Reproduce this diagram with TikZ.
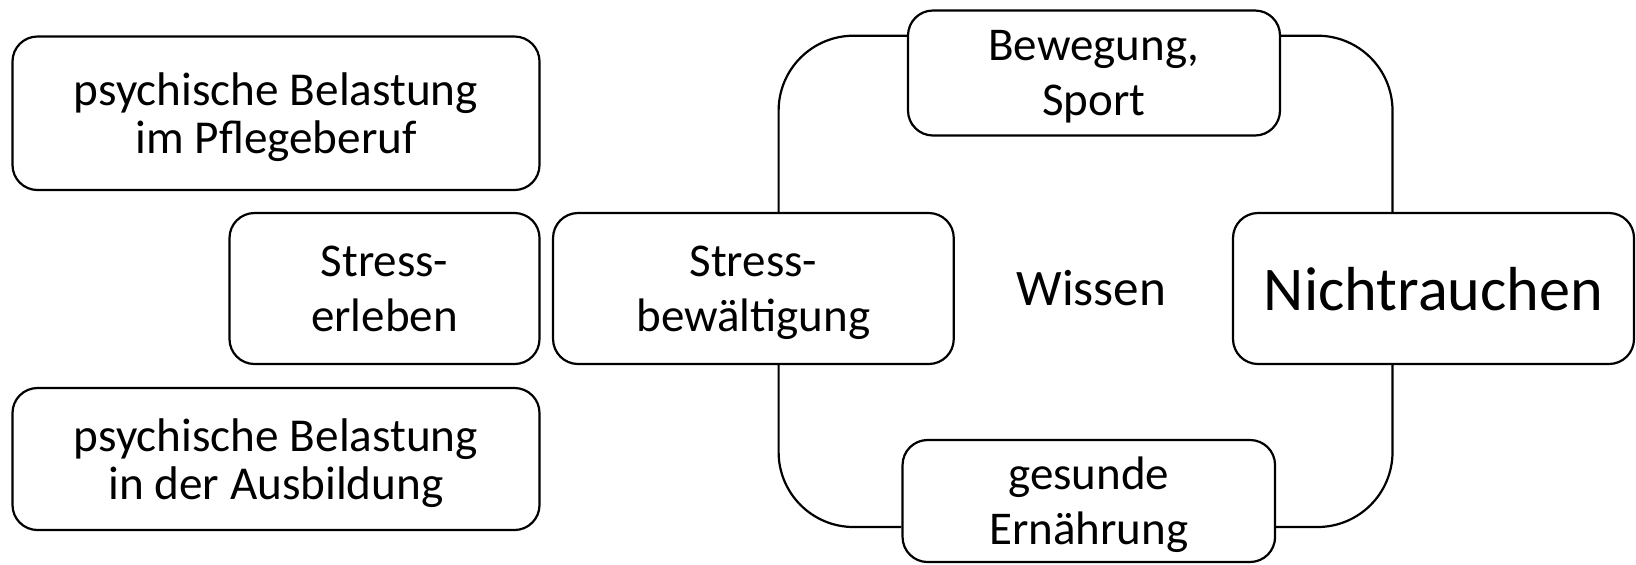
\documentclass[tikz,border=0pt]{standalone}
\usepackage{fontspec}
\setmainfont{Carlito}
\usetikzlibrary{calc}

\begin{document}
\begin{tikzpicture}[x=0.5pt, y=-0.5pt,
  feld/.style={draw, line width=1.1pt, rounded corners=12.5pt, fill=white,
    align=center, inner sep=0pt, text depth=0pt,
    font=\fontsize{23.5pt}{27.5pt}\selectfont},
  eng/.style={font=\fontsize{23.6pt}{24pt}\selectfont},
  linie/.style={line width=1.1pt, rounded corners=37.5pt}]

\useasboundingbox (0,0) rectangle (1636,564);

\node [feld, eng, minimum width=263.5pt, minimum height=76.75pt] (beruf) at (276,113.25)
  {psychische Belastung\\im Pflegeberuf};
\node [feld, minimum width=155pt, minimum height=75.5pt] (erleben) at (384.5,288.5)
  {Stress-\\erleben};
\node [feld, eng, minimum width=263.5pt, minimum height=71pt] (ausb) at (276,459)
  {psychische Belastung\\in der Ausbildung};

\node [feld, minimum width=200.35pt, minimum height=75.5pt] (bew) at (753.4,288.5)
  {Stress-\\bew\"altigung};
\node [feld, minimum width=186pt, minimum height=62.5pt] (sport) at (1094,73)
  {Bewegung,\\Sport};
\node [feld, minimum width=186.25pt, minimum height=61pt] (ern) at (1088.8,501)
  {gesunde\\Ern\"ahrung};
\node [feld, minimum width=200.5pt, minimum height=75.5pt,
  font=\fontsize{31.1pt}{36pt}\selectfont] (nicht) at (1433.5,288.5) {Nichtrauchen};
\node [font=\fontsize{25.6pt}{30pt}\selectfont] (wissen) at (1091.5,288.5) {Wissen};

% Kreis um Wissen
\coordinate (lo) at (778.6,35.7);
\coordinate (ro) at (1392.5,35.7);
\coordinate (lu) at (778.6,527);
\coordinate (ru) at (1392.5,527);

\draw [linie] (bew.north -| lo) |- (sport.west |- lo);
\draw [linie] (sport.east |- ro) -| (nicht.north -| ro);
\draw [linie] (bew.south -| lu) |- (ern.west |- lu);
\draw [linie] (ern.east |- ru) -| (nicht.south -| ru);

\end{tikzpicture}
\end{document}
